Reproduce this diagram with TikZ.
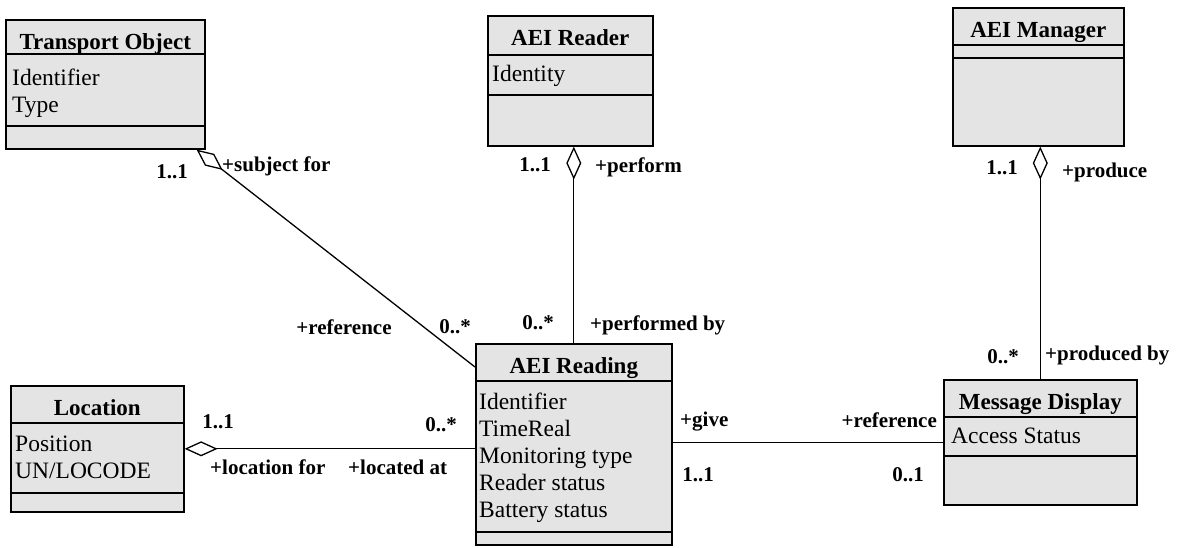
\documentclass[tikz,border=0pt]{standalone}
\usepackage{fontspec}
\setmainfont{Liberation Serif}
\usetikzlibrary{arrows.meta,positioning}
\definecolor{boxgray}{RGB}{228,228,228}

\tikzset{
  umlclass/.style={draw, fill=boxgray, line width=1.6pt, inner sep=0pt, anchor=north west},
  divider/.style={line width=1.4pt},
  classname/.style={font=\fontsize{23}{27}\selectfont\bfseries, anchor=base, inner sep=0pt},
  attrs/.style={font=\fontsize{23.5}{27}\selectfont, align=left, anchor=north west, inner sep=0pt},
  role/.style={font=\fontsize{21}{24}\selectfont\bfseries, inner sep=0pt},
  assoc/.style={line width=1.3pt},
  aggr/.style={assoc, {Diamond[open, length=33pt, width=15pt]}-}
}

\begin{document}
\begin{tikzpicture}[x=1pt,y=-1pt]
            \useasboundingbox (0,0) rectangle (1181,547);
            % class boxes
            \node[umlclass, minimum width=199pt, minimum height=129pt] (transport) at (5,19) {};
            \node[umlclass, minimum width=165pt, minimum height=130pt] (reader) at (487,15) {};
            \node[umlclass, minimum width=171pt, minimum height=138pt] (manager) at (952,7) {};
            \node[umlclass, minimum width=173pt, minimum height=126pt] (location) at (10,385) {};
            \node[umlclass, minimum width=196pt, minimum height=201pt] (reading) at (475,343) {};
            \node[umlclass, minimum width=193pt, minimum height=125pt] (display) at (943,379) {};
            % compartments
            \foreach \cls/\a/\b in {transport/35/107, reader/40/80, manager/38/51,
                                   location/38/108, reading/38/189, display/38/77} {
              \draw[divider] ([yshift=-\a pt]\cls.north west) -- ([yshift=-\a pt]\cls.north east);
              \draw[divider] ([yshift=-\b pt]\cls.north west) -- ([yshift=-\b pt]\cls.north east);
            }
            \foreach \cls/\title in {transport/Transport Object, reader/AEI Reader, manager/AEI Manager,
                                     location/Location, reading/AEI Reading, display/Message Display}
              \node[classname] (\cls-name) at ([yshift=-30pt]\cls.north) {\title};
            % attributes
            \node[attrs] (transport-attr) at ([xshift=7pt,yshift=-50pt]transport.north west) {Identifier\\Type};
            \node[attrs] (reader-attr) at ([xshift=5pt,yshift=-50pt]reader.north west) {Identity};
            \node[attrs] (location-attr) at ([xshift=5pt,yshift=-51pt]location.north west) {Position\\UN/LOCODE};
            \node[attrs] (reading-attr) at ([xshift=4pt,yshift=-50pt]reading.north west)
              {Identifier\\TimeReal\\Monitoring type\\Reader status\\Battery status};
            \node[attrs] (display-attr) at ([xshift=8pt,yshift=-49pt]display.north west) {Access Status};
            % associations
            \coordinate (subj) at ([xshift=-9pt]transport.south east);
            \coordinate (refd) at ([yshift=-24pt]reading.north west);
            \draw[aggr] (subj) -- (refd);
            \draw[aggr] (reading.north |- reader.south) -- (reading.north);
            \draw[aggr] (display.north |- manager.south) -- (display.north);
            \draw[aggr] (location.east) -- (location.east -| reading.west);
            \draw[assoc] (display.west -| reading.east) -- (display.west);
            % roles and multiplicities
            \node[role] (m1) at (172,172) {1..1};
            \node[role, anchor=west] (r1) at (222,166) {+subject for};
            \node[role] (r2) at (344,327) {+reference};
            \node[role] (m2) at (455,327) {0..*};
            \node[role] (m3) at (535,165) {1..1};
            \node[role, anchor=west] (r3) at (595,167) {+perform};
            \node[role] (m4) at (538,323) {0..*};
            \node[role, anchor=west] (r4) at (590,325) {+performed by};
            \node[role] (m5) at (1002,168) {1..1};
            \node[role, anchor=west] (r5) at (1062,172) {+produce};
            \node[role] (m6) at (1003,357) {0..*};
            \node[role, anchor=west] (r6) at (1045,355) {+produced by};
            \node[role] (m7) at (218,422) {1..1};
            \node[role] (m8) at (441,425) {0..*};
            \node[role, anchor=west] (r7) at (210,467) {+location for};
            \node[role, anchor=west] (r8) at (348,467) {+located at};
            \node[role, anchor=west] (r9) at (680,422) {+give};
            \node[role] (m9) at (698,475) {1..1};
            \node[role, anchor=east] (r10) at (937,420) {+reference};
            \node[role] (m10) at (908,475) {0..1};
\end{tikzpicture}
\end{document}
